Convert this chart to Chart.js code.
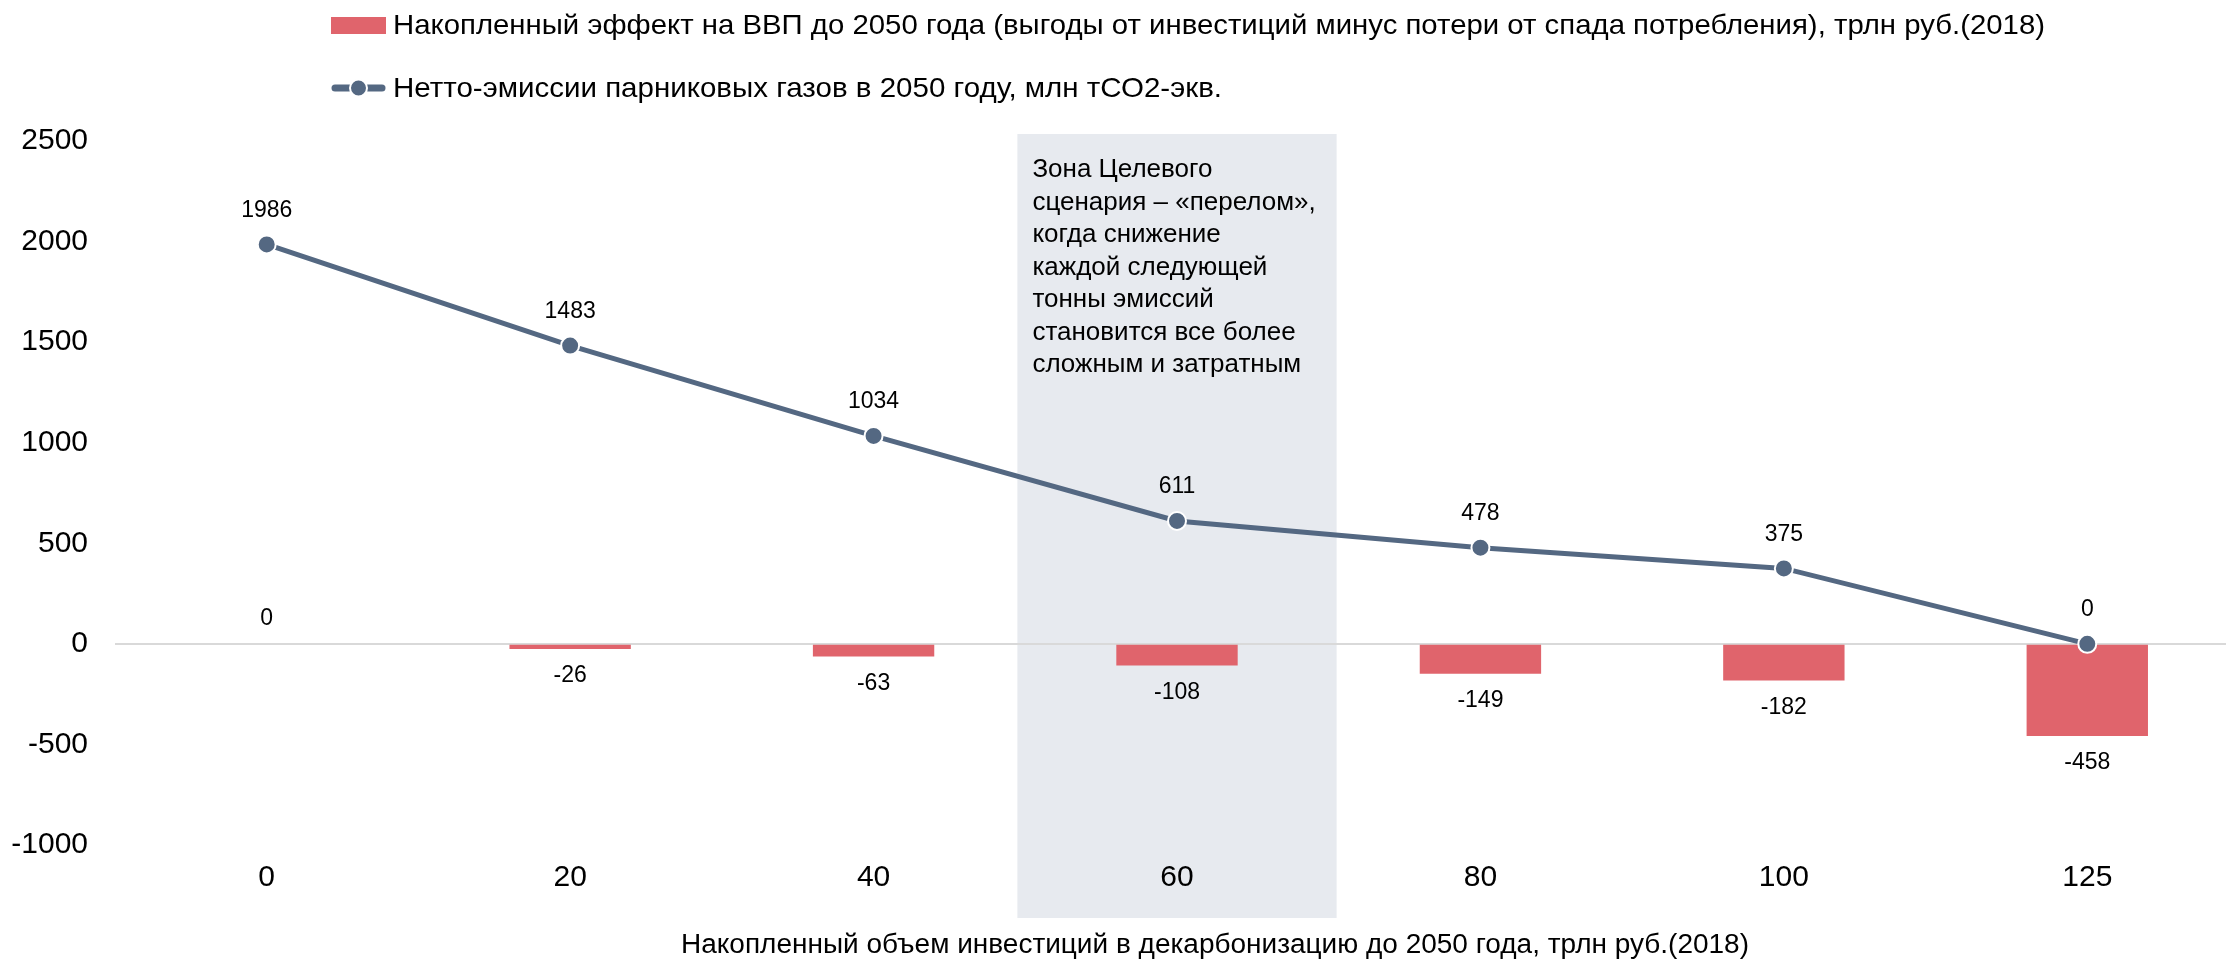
<!DOCTYPE html>
<html>
<head>
<meta charset="utf-8">
<script src="https://cdn.jsdelivr.net/npm/chart.js@4.4.0/dist/chart.umd.min.js"></script>
<style>
  html, body { margin: 0; padding: 0; background: #fff; overflow: hidden; width: 2226px; height: 967px; }
  #wrap { position: relative; width: 2250px; height: 967px; }
  canvas { position: absolute; left: 0; top: 0; }
  .lg { position: absolute; left: 331px; height: 40px; display: flex; align-items: center; white-space: nowrap;
        font-family: "Liberation Sans", Arial, sans-serif; font-size: 28px; color: #000; }
  .lg svg { flex: none; margin-right: 7px; }
  .fit { display: inline-block; transform-origin: left center; }
  #xtitle { position: absolute; top: 929px; left: 1215px; white-space: nowrap;
            font-family: "Liberation Sans", Arial, sans-serif; font-size: 27px; color: #000; }
</style>
</head>
<body>
<div id="wrap">
  <canvas id="chart" width="2250" height="967"></canvas>
  <div class="lg" id="lg1" style="top:5px">
    <svg width="55" height="20"><rect x="0" y="2" width="55" height="17" fill="#E0646C"/></svg>
    <span class="fit" data-w="1652" id="lgText1"></span>
  </div>
  <div class="lg" id="lg2" style="top:68px">
    <svg width="55" height="22"><line x1="4" y1="11" x2="51" y2="11" stroke="#546882" stroke-width="7" stroke-linecap="round"/><circle cx="27.5" cy="11" r="8.5" fill="#546882" stroke="#fff" stroke-width="2"/></svg>
    <span class="fit" data-w="829" id="lgText2"></span>
  </div>
  <div id="xtitle"><span class="fit" data-w="1068" id="xTitleText"></span></div>
</div>
<script>
const categories = ['0', '20', '40', '60', '80', '100', '125'];
const gdpEffect = [0, -26, -63, -108, -149, -182, -458];
const emissions = [1986, 1483, 1034, 611, 478, 375, 0];
const yTicks = [-1000, -500, 0, 500, 1000, 1500, 2000, 2500];

const gdpLabel = 'Накопленный эффект на ВВП до 2050 года (выгоды от инвестиций минус потери от спада потребления), трлн руб.(2018)';
const emissionsLabel = 'Нетто-эмиссии парниковых газов в 2050 году, млн тСО2-экв.';
const xTitle = 'Накопленный объем инвестиций в декарбонизацию до 2050 года, трлн руб.(2018)';

const zoneCategory = '60';
const zoneText = [
  'Зона Целевого',
  'сценария – «перелом»,',
  'когда снижение',
  'каждой следующей',
  'тонны эмиссий',
  'становится все более',
  'сложным и затратным'
];

const barColor = '#E0646C';
const lineColor = '#546882';
const zoneColor = '#E7EAEF';
const fontFamily = '"Liberation Sans", Arial, sans-serif';

document.getElementById('lgText1').textContent = gdpLabel;
document.getElementById('lgText2').textContent = emissionsLabel;
document.getElementById('xTitleText').textContent = xTitle;

// squeeze legend and title text to the widths in the picture
document.querySelectorAll('.fit').forEach(el => {
  const w = el.getBoundingClientRect().width;
  const k = +el.dataset.w / w;
  if (el.parentElement.id === 'xtitle') {
    el.style.transform = 'translateX(-50%) scaleX(' + k + ')';
    el.style.transformOrigin = 'center center';
  } else {
    el.style.transform = 'scaleX(' + k + ')';
  }
});

const zonePlugin = {
  id: 'zone',
  beforeDraw(chart) {
    const { ctx, chartArea, scales } = chart;
    const x = scales.x;
    const i = categories.indexOf(zoneCategory);
    const step = x.getPixelForValue(1) - x.getPixelForValue(0);
    const cx = x.getPixelForValue(i);
    const left = cx - step * 0.526;
    const right = cx + step * 0.526;
    const top = chartArea.top - 7;
    const bottom = chartArea.bottom + 73;
    ctx.save();
    ctx.fillStyle = zoneColor;
    ctx.fillRect(left, top, right - left, bottom - top);
    ctx.fillStyle = '#000';
    ctx.font = '26px ' + fontFamily;
    ctx.textAlign = 'left';
    ctx.textBaseline = 'middle';
    zoneText.forEach((t, k) => ctx.fillText(t, left + 15, top + 36 + k * 32.5));
    ctx.restore();
  }
};

const valueLabels = {
  id: 'valueLabels',
  afterDatasetsDraw(chart) {
    const { ctx } = chart;
    ctx.save();
    ctx.fillStyle = '#000';
    ctx.font = '23px ' + fontFamily;
    ctx.textAlign = 'center';
    ctx.textBaseline = 'middle';
    chart.data.datasets.forEach((ds, di) => {
      const meta = chart.getDatasetMeta(di);
      meta.data.forEach((el, j) => {
        const v = ds.data[j];
        let y;
        if (ds.type === 'bar') y = v < 0 ? el.y + 27 : el.y - 25;
        else y = el.y - 34;
        ctx.fillText(String(v), el.x, y);
      });
    });
    ctx.restore();
  }
};

new Chart(document.getElementById('chart'), {
  data: {
    labels: categories,
    datasets: [
      {
        type: 'line',
        label: emissionsLabel,
        data: emissions,
        borderColor: lineColor,
        backgroundColor: lineColor,
        borderWidth: 5,
        pointRadius: 9,
        pointBorderColor: '#fff',
        pointBorderWidth: 2,
        pointBackgroundColor: lineColor,
        tension: 0,
        order: 0
      },
      {
        type: 'bar',
        label: gdpLabel,
        data: gdpEffect,
        backgroundColor: barColor,
        barPercentage: 0.4,
        categoryPercentage: 1.0,
        order: 1
      }
    ]
  },
  options: {
    responsive: false,
    animation: false,
    devicePixelRatio: 1,
    layout: { padding: { left: 0, right: 6, top: 141, bottom: 0 } },
    plugins: {
      legend: { display: false },
      tooltip: { enabled: false }
    },
    scales: {
      x: {
        grid: { display: false, drawTicks: false },
        border: { display: false },
        ticks: {
          color: '#000',
          font: { family: fontFamily, size: 30 },
          padding: 15
        },
        afterFit(scale) { scale.height = 122; }
      },
      y: {
        min: yTicks[0],
        max: yTicks[yTicks.length - 1],
        grid: {
          drawTicks: false,
          lineWidth: 2,
          color: c => (c.tick && c.tick.value === 0 ? '#D9D9D9' : 'rgba(0,0,0,0)')
        },
        border: { display: false },
        ticks: {
          stepSize: yTicks[1] - yTicks[0],
          color: '#000',
          font: { family: fontFamily, size: 30 },
          padding: 27,
          callback: v => String(v)
        },
        afterFit(scale) { scale.width = 115; }
      }
    }
  },
  plugins: [zonePlugin, valueLabels]
});
</script>
</body>
</html>
